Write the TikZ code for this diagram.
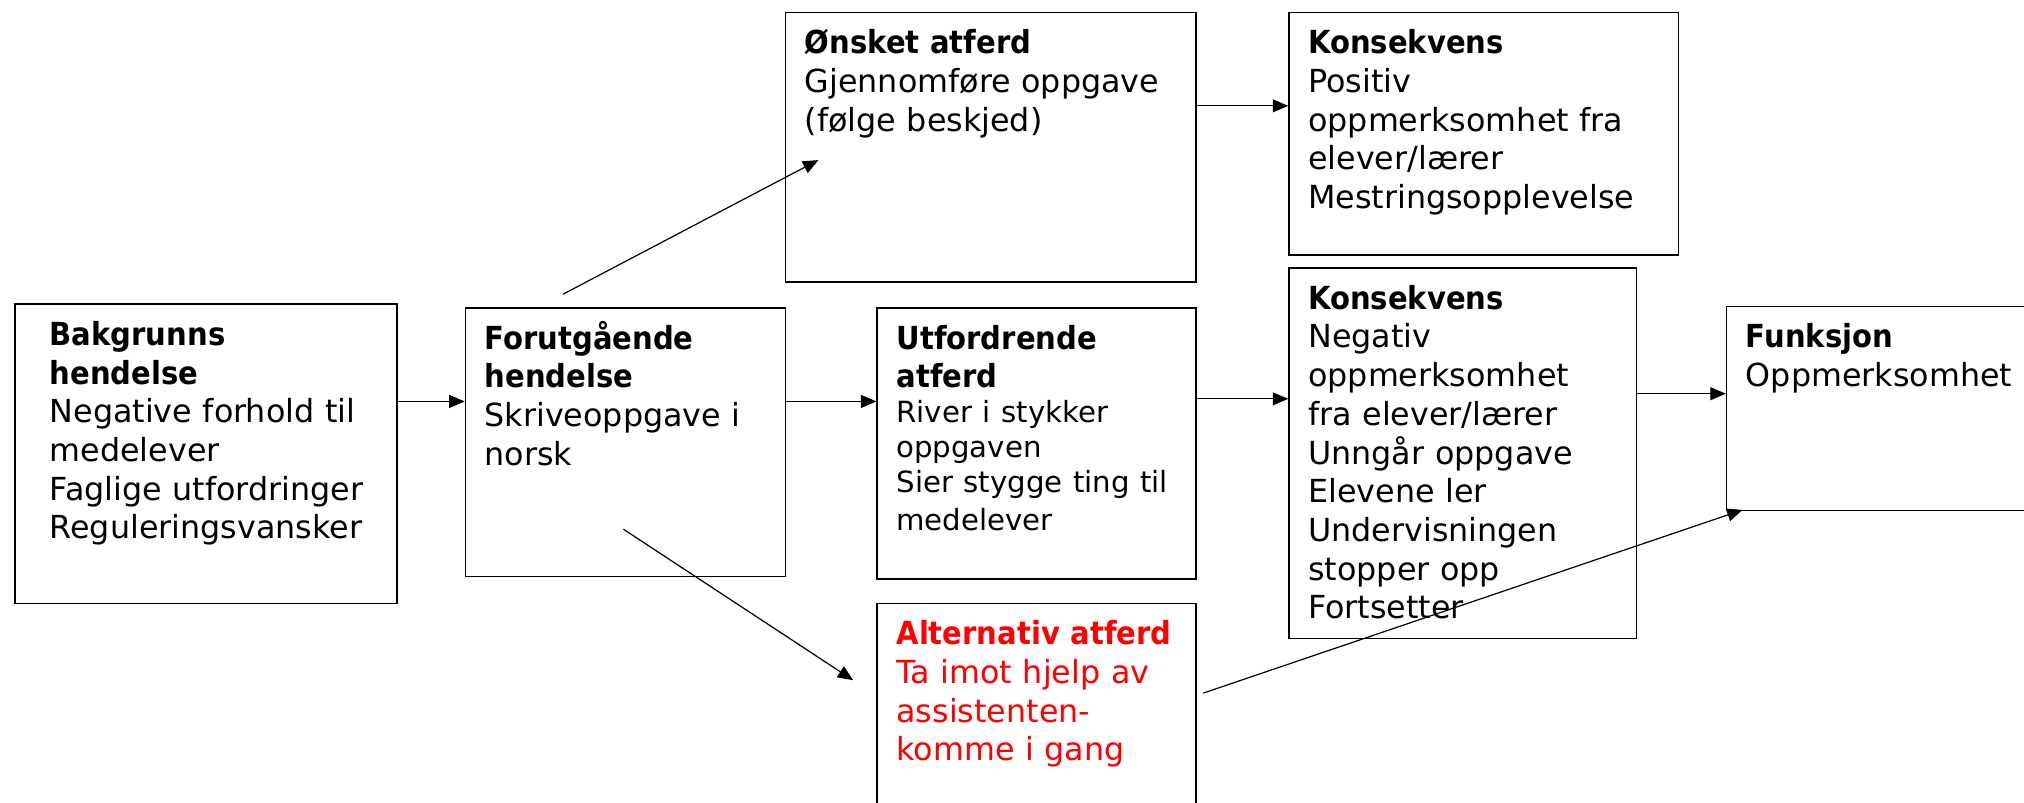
\documentclass[tikz,border=0pt]{standalone}
\usepackage{fontspec}
\setmainfont{DejaVu Sans}[BoldFeatures={FakeStretch=0.915}]
\usepackage{xcolor}
\usetikzlibrary{arrows.meta, positioning}

\newcommand{\hd}[1]{\textbf{#1}}

\begin{document}
\begin{tikzpicture}[x=0.03cm, y=-0.03cm,
  blk/.style={draw, line width=0.9pt, anchor=north west, align=left, inner xsep=0.45cm, inner ysep=0pt, text height=0.96cm, font=\fontsize{21pt}{25.6pt}\selectfont},
  arr/.style={-{Triangle[length=0.36cm, width=0.3cm]}, line width=0.8pt}]
\useasboundingbox (0,0) rectangle (1568,622);

% Nodes
\node[blk, inner xsep=0.81cm, text width=7.26cm, text depth=6.0cm] (bak) at (11,235)
  {\hd{Bakgrunns}\\ \hd{hendelse}\\ Negative forhold til\\ medelever\\ \mbox{Faglige utfordringer}\\ \mbox{Reguleringsvansker}};
\node[blk, text width=6.54cm, text depth=5.28cm] (forut) at (360,238)
  {\hd{Forutgående}\\ \hd{hendelse}\\ Skriveoppgave i\\ norsk};
\node[blk, text width=8.64cm, text depth=5.31cm] (onsket) at (608,9)
  {\hd{Ønsket atferd}\\ Gjennomføre oppgave\\ (følge beskjed)};
\node[blk, text width=8.16cm, text depth=4.68cm] (kons1) at (998,9)
  {\hd{Konsekvens}\\ Positiv\\ oppmerksomhet fra\\ elever/lærer\\ Mestringsopplevelse};
\node[blk, text width=6.51cm, text depth=5.34cm] (utf) at (679,238)
  {\hd{Utfordrende}\\ \hd{atferd}\par\fontsize{19.3pt}{23pt}\selectfont River i stykker\\ oppgaven\\ Sier stygge ting til\\ medelever};
\node[blk, text width=7.17cm, text depth=7.65cm] (kons2) at (998,207)
  {\hd{Konsekvens}\\ Negativ\\ oppmerksomhet\\ fra elever/lærer\\ Unngår oppgave\\ Elevene ler\\ Undervisningen\\ stopper opp\\ Fortsetter};
\node[blk, text width=6.6cm, text depth=3.78cm] (funk) at (1337,237)
  {\hd{Funksjon}\\ Oppmerksomhet};
\node[blk, text=red, text width=6.51cm, text depth=4.44cm] (alt) at (679,467)
  {\hd{Alternativ atferd}\\ Ta imot hjelp av\\ assistenten-\\ komme i gang};

% Free ends
\coordinate (d1a) at (436,228);
\coordinate (d1b) at (634,124);
\coordinate (d2a) at (483,410);
\coordinate (d2b) at (661,527);
\coordinate (d3a) at (932,537);
\coordinate (d3b) at (1350,395);

% Arrows
\draw[arr] (bak.east |- 0,311) -- (forut.west |- 0,311);
\draw[arr] (forut.east |- 0,311) -- (utf.west |- 0,311);
\draw[arr] (utf.east |- 0,309) -- (kons2.west |- 0,309);
\draw[arr] (kons2.east |- 0,305) -- (funk.west |- 0,305);
\draw[arr] (onsket.east |- 0,82) -- (kons1.west |- 0,82);
\draw[arr] (d1a) -- (d1b);
\draw[arr] (d2a) -- (d2b);
\draw[arr] (d3a) -- (d3b);
\end{tikzpicture}
\end{document}
